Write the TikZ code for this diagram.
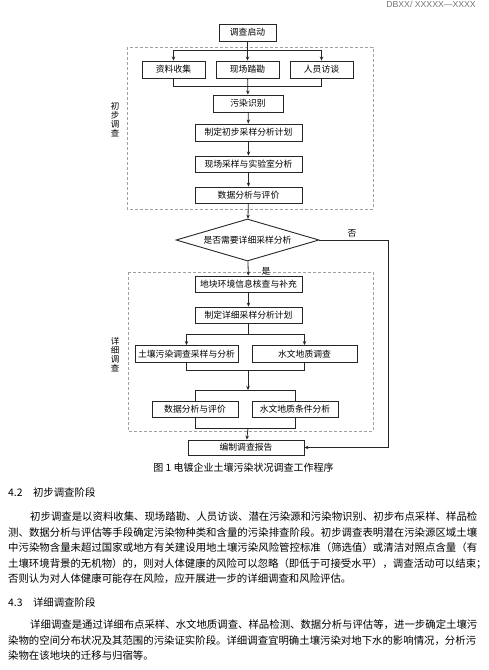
\documentclass[tikz,border=0pt]{standalone}
\usepackage{fontspec}
\setmainfont{Noto Sans CJK SC}
\newfontfamily\latinfont{Liberation Sans}
\usetikzlibrary{shapes.geometric, arrows.meta}
\definecolor{inkgray}{HTML}{262626}
\definecolor{zonegray}{HTML}{A0A0A0}

% stretch one line of CJK text to a given width
\makeatletter
\newcommand\spreadline[2]{\makebox[#1][s]{\let\sl@sep\relax\@tfor\sl@ch:=#2\do{\sl@sep\sl@ch\let\sl@sep\hfil}}}
\makeatother

\begin{document}
\begin{tikzpicture}[
    x=1pt, y=-1pt,
    stepbox/.style={draw=inkgray, line width=0.9pt, minimum height=17pt, inner sep=0pt, font=\fontsize{8.8}{10}\selectfont},
    query/.style={draw=inkgray, line width=0.9pt, diamond, aspect=3.4, minimum width=143pt, minimum height=42pt, inner sep=0pt, font=\fontsize{8.8}{10}\selectfont},
    zone/.style={draw=zonegray, line width=0.8pt, dash pattern=on 3pt off 2pt},
    link/.style={draw=inkgray, line width=0.8pt},
    arr/.style={link, -{Stealth[length=4pt, width=3.5pt]}},
    side/.style={align=center, inner sep=0pt, font=\fontsize{8.5}{9}\selectfont},
    tag/.style={inner sep=0pt, font=\fontsize{8.8}{10}\selectfont},
    body/.style={anchor=west, inner sep=0pt, font=\fontsize{10.4}{12}\selectfont},
]
\useasboundingbox (0,0) rectangle (488,670);

\node[anchor=east, inner sep=0pt, text=black!55, font=\latinfont\fontsize{8.7}{9}\selectfont] (docno) at (476,4.5) {DBXX/ XXXXX—XXXX};

% zones
\draw[zone] (127,47) rectangle (373,209);
\draw[zone] (128,272) rectangle (373,431);
\node[side] (zone1) at (115,120) {初\\步\\调\\查};
\node[side] (zone2) at (115,355) {详\\细\\调\\查};

% preliminary stage
\node[stepbox, minimum width=57pt] (start) at (247.5,32.5) {调查启动};
\node[stepbox, minimum width=63pt] (collect) at (173.5,69.5) {资料收集};
\node[stepbox, minimum width=63pt] (survey) at (247.5,69.5) {现场踏勘};
\node[stepbox, minimum width=63pt] (interview) at (321.5,69.5) {人员访谈};
\node[stepbox, minimum width=70pt] (identify) at (248,103.5) {污染识别};
\node[stepbox, minimum width=107pt] (plan1) at (248.5,132.5) {制定初步采样分析计划};
\node[stepbox, minimum width=107pt, minimum height=16pt] (sample1) at (248.5,164) {现场采样与实验室分析};
\node[stepbox, minimum width=107pt, minimum height=16pt] (eval1) at (248.5,195) {数据分析与评价};

\node[query] (decide) at (247.5,240) {是否需要详细采样分析};
\node[tag] (nolabel) at (352,233) {否};
\node[tag] (yeslabel) at (266,271) {是};

% detailed stage
\node[stepbox, minimum width=107pt, minimum height=16pt] (check) at (248.5,284) {地块环境信息核查与补充};
\node[stepbox, minimum width=107pt, minimum height=16pt] (plan2) at (248.5,315) {制定详细采样分析计划};
\node[stepbox, minimum width=103pt] (soilsample) at (186.5,354) {土壤污染调查采样与分析};
\node[stepbox, minimum width=105pt] (hydro) at (304.5,354) {水文地质调查};
\node[stepbox, minimum width=86pt, minimum height=16pt] (eval2) at (195,409) {数据分析与评价};
\node[stepbox, minimum width=86pt, minimum height=16pt] (hydroeval) at (295,409) {水文地质条件分析};
\node[stepbox, minimum width=116pt, minimum height=15pt] (report) at (246,447.5) {编制调查报告};

\coordinate (split1) at (247.5,50);
\coordinate (merge1) at (248,86);
\coordinate (split2) at (248.5,334);
\coordinate (merge2) at (248,370);
\coordinate (split3) at (248,390);
\coordinate (merge3) at (248,428);
\coordinate (noturn) at (388,240);

% connectors
\draw[arr] (start) -- (survey);
\draw[arr] (split1) -| (collect.north);
\draw[arr] (split1) -| (interview.north);
\draw[link] (collect) |- (merge1);
\draw[link] (interview) |- (merge1);
\draw[arr] (survey) -- (identify);

\foreach \a/\b in {identify/plan1, plan1/sample1, sample1/eval1, eval1/decide, decide/check, check/plan2} {
    \draw[arr] (\a) -- (\b);
}

\draw[arr] (decide.east) -- (noturn) |- (report.east);

\draw[link] (plan2) -- (split2);
\draw[arr] (split2) -| (soilsample.north);
\draw[arr] (split2) -| (hydro.north);
\draw[link] (soilsample) |- (merge2);
\draw[link] (hydro) |- (merge2);
\draw[arr] (merge2) -- (split3);
\draw[link] (split3) -| (eval2.north);
\draw[link] (split3) -| (hydroeval.north);
\draw[link] (eval2) |- (merge3);
\draw[link] (hydroeval) |- (merge3);
\draw[arr] (merge3) -- (report);

% caption and text
\node[inner sep=0pt, font=\fontsize{10}{12}\selectfont] (caption) at (243.5,467.5) {图\ 1\ 电镀企业土壤污染状况调查工作程序};

\node[body] (head1) at (8,493) {4.2\hspace{1em}初步调查阶段};
\node[body] (p1a) at (30,517) {\spreadline{447pt}{初步调查是以资料收集、现场踏勘、人员访谈、潜在污染源和污染物识别、初步布点采样、样品检}};
\node[body] (p1b) at (8,532.5) {\spreadline{469pt}{测、数据分析与评估等手段确定污染物种类和含量的污染排查阶段。初步调查表明潜在污染源区域土壤}};
\node[body] (p1c) at (8,548) {\spreadline{469pt}{中污染物含量未超过国家或地方有关建设用地土壤污染风险管控标准（筛选值）或清洁对照点含量（有}};
\node[body] (p1d) at (8,563.5) {\spreadline{469pt}{土壤环境背景的无机物）的，则对人体健康的风险可以忽略（即低于可接受水平），调查活动可以结束；}};
\node[body] (p1e) at (8,579) {否则认为对人体健康可能存在风险，应开展进一步的详细调查和风险评估。};

\node[body] (head2) at (8,603) {4.3\hspace{1em}详细调查阶段};
\node[body] (p2a) at (30,625) {\spreadline{445pt}{详细调查是通过详细布点采样、水文地质调查、样品检测、数据分析与评估等，进一步确定土壤污}};
\node[body] (p2b) at (8,640.5) {\spreadline{467pt}{染物的空间分布状况及其范围的污染证实阶段。详细调查宜明确土壤污染对地下水的影响情况，分析污}};
\node[body] (p2c) at (8,656) {染物在该地块的迁移与归宿等。};

\end{tikzpicture}
\end{document}
